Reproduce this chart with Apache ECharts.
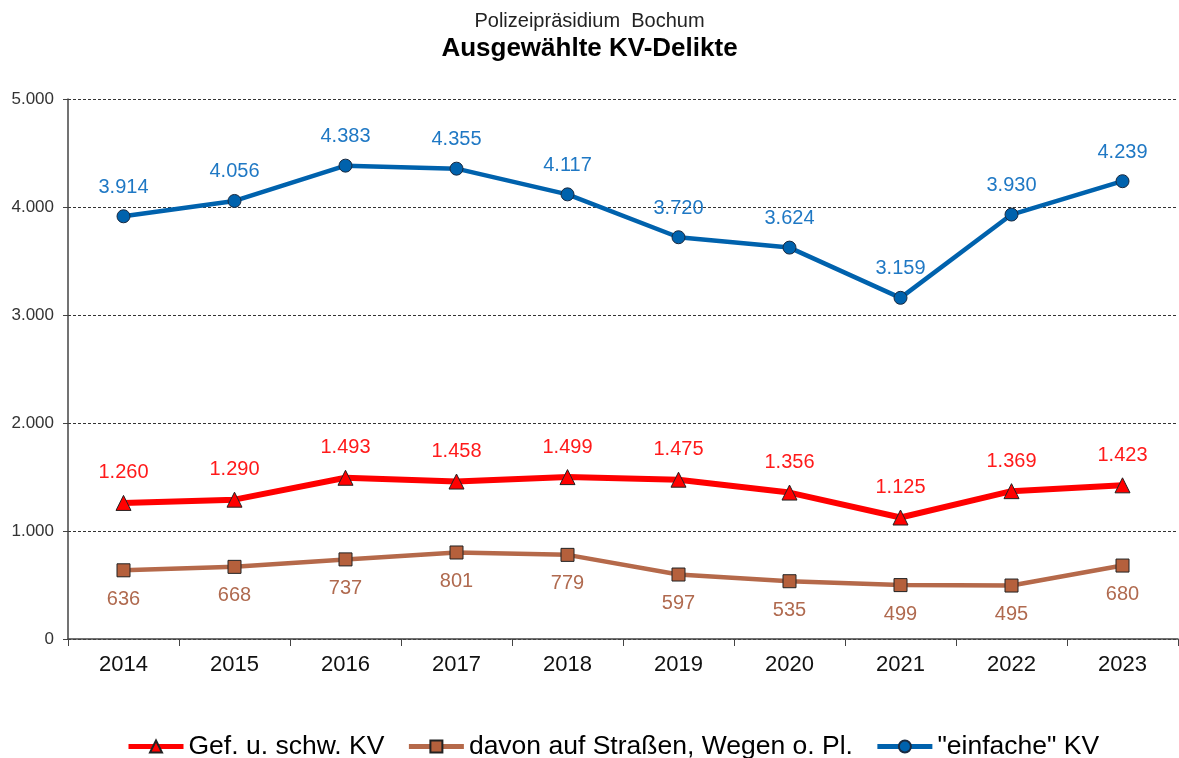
<!DOCTYPE html>
<html>
<head>
<meta charset="utf-8">
<script src="https://cdn.jsdelivr.net/npm/echarts@6/dist/echarts.min.js"></script>
<style>
  html, body { margin: 0; padding: 0; background: #fff; }
  #chart { width: 1179px; height: 758px; }
</style>
</head>
<body>
<div id="chart"></div>
<script>
// Jahre
const years = ['2014', '2015', '2016', '2017', '2018', '2019', '2020', '2021', '2022', '2023'];
// Gef. u. schw. KV
const gefSchwKV = [1260, 1290, 1493, 1458, 1499, 1475, 1356, 1125, 1369, 1423];
// davon auf Straßen, Wegen o. Pl.
const strassenKV = [636, 668, 737, 801, 779, 597, 535, 499, 495, 680];
// "einfache" KV
const einfacheKV = [3914, 4056, 4383, 4355, 4117, 3720, 3624, 3159, 3930, 4239];

// Tausenderpunkt wie im Original
function fmt (v) {
  return String(v).replace(/\B(?=(\d{3})+(?!\d))/g, '.');
}

const font = 'Liberation Sans, Arial, sans-serif';
const myChart = echarts.init(document.getElementById('chart'));

const option = {
  animation: false,
  backgroundColor: '#fff',
  title: [
    {
      text: 'Polizeipräsidium  Bochum',
      left: 'center',
      top: 6,
      textStyle: { fontFamily: font, fontSize: 20, fontWeight: 'normal', color: '#222' }
    },
    {
      text: 'Ausgewählte KV-Delikte',
      left: 'center',
      top: 31,
      textStyle: { fontFamily: font, fontSize: 26, fontWeight: 'bold', color: '#000' }
    }
  ],
  legend: {
    top: 728,
    left: 121,
    itemWidth: 55,
    itemHeight: 15,
    itemGap: 22,
    lineStyle: { width: 5 },
    textStyle: { fontFamily: font, fontSize: 26.5, color: '#000' },
    data: ['Gef. u. schw. KV', 'davon auf Straßen, Wegen o. Pl.', '"einfache" KV']
  },
  grid: {
    left: 68,
    right: 1,
    top: 99,
    bottom: 119
  },
  xAxis: {
    type: 'category',
    data: years,
    boundaryGap: true,
    axisLine: { lineStyle: { color: '#444', width: 1.5 } },
    axisTick: { show: true, length: 7, alignWithLabel: false, lineStyle: { color: '#444' } },
    axisLabel: { fontFamily: font, fontSize: 22, color: '#111', margin: 15 }
  },
  yAxis: {
    type: 'value',
    min: 0,
    max: 5000,
    interval: 1000,
    axisLine: { show: true, lineStyle: { color: '#444', width: 1.5 } },
    axisTick: { show: true, length: 5, lineStyle: { color: '#444' } },
    axisLabel: { fontFamily: font, fontSize: 17, color: '#333', margin: 14, formatter: fmt },
    splitLine: { lineStyle: { color: '#333', type: [3, 2], width: 1 } }
  },
  series: [
    {
      name: 'Gef. u. schw. KV',
      type: 'line',
      data: gefSchwKV,
      symbol: 'triangle',
      symbolSize: 15,
      lineStyle: { color: '#ff0000', width: 6 },
      itemStyle: { color: '#ff0000', borderColor: '#222', borderWidth: 1 },
      label: {
        show: true,
        position: 'top',
        distance: 12,
        fontFamily: font,
        fontSize: 20,
        color: '#ff1a1a',
        formatter: p => fmt(p.value)
      },
      z: 3
    },
    {
      name: 'davon auf Straßen, Wegen o. Pl.',
      type: 'line',
      data: strassenKV,
      symbol: 'rect',
      symbolSize: 13,
      lineStyle: { color: '#b5694a', width: 4.5 },
      itemStyle: { color: '#b5603c', borderColor: '#222', borderWidth: 1 },
      label: {
        show: true,
        position: 'bottom',
        distance: 12,
        fontFamily: font,
        fontSize: 20,
        color: '#b06a4f',
        formatter: p => fmt(p.value)
      },
      z: 2
    },
    {
      name: '"einfache" KV',
      type: 'line',
      data: einfacheKV,
      symbol: 'circle',
      symbolSize: 13,
      lineStyle: { color: '#0062ad', width: 4.5 },
      itemStyle: { color: '#0062ad', borderColor: '#1a2a40', borderWidth: 1 },
      label: {
        show: true,
        position: 'top',
        distance: 12,
        fontFamily: font,
        fontSize: 20,
        color: '#1f78c4',
        formatter: p => fmt(p.value)
      },
      z: 4
    }
  ]
};

myChart.setOption(option);
window.addEventListener('resize', () => { myChart.resize() });
</script>
</body>
</html>
